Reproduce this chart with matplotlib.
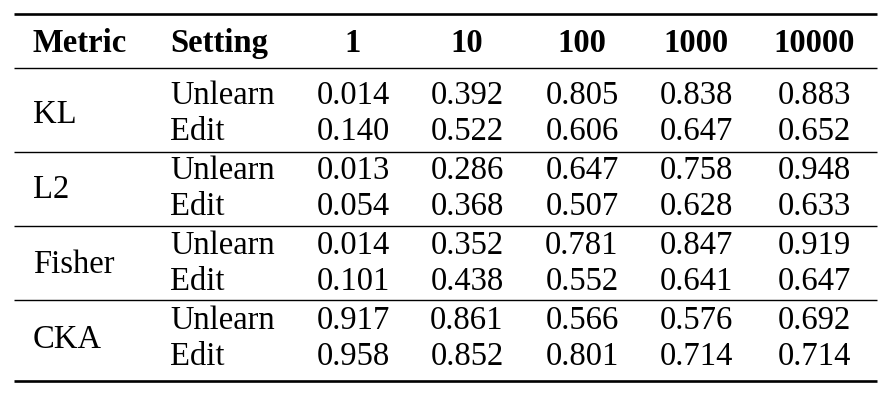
import matplotlib
matplotlib.use("Agg")
import matplotlib.pyplot as plt

columns = ["1", "10", "100", "1000", "10000"]
metrics = ["KL", "L2", "Fisher", "CKA"]
settings = ["Unlearn", "Edit"]
kl_unlearn = [0.014, 0.392, 0.805, 0.838, 0.883]
kl_edit = [0.140, 0.522, 0.606, 0.647, 0.652]
l2_unlearn = [0.013, 0.286, 0.647, 0.758, 0.948]
l2_edit = [0.054, 0.368, 0.507, 0.628, 0.633]
fisher_unlearn = [0.014, 0.352, 0.781, 0.847, 0.919]
fisher_edit = [0.101, 0.438, 0.552, 0.641, 0.647]
cka_unlearn = [0.917, 0.861, 0.566, 0.576, 0.692]
cka_edit = [0.958, 0.852, 0.801, 0.714, 0.714]

values = {
    "KL": [kl_unlearn, kl_edit],
    "L2": [l2_unlearn, l2_edit],
    "Fisher": [fisher_unlearn, fisher_edit],
    "CKA": [cka_unlearn, cka_edit],
}

plt.rcParams['font.family'] = ['Liberation Serif', 'DejaVu Serif']
W, H = 886, 402
fig = plt.figure(figsize=(W / 100, H / 100), dpi=100)
ax = fig.add_axes([0, 0, 1, 1])
ax.set_xlim(0, W)
ax.set_ylim(H, 0)
ax.axis('off')

fs = 23.5
x_metric = 33
x_setting = 170
col_x = [353, 467, 582, 696, 814]
x0, x1 = 14, 877

# rules
ax.plot([x0, x1], [15, 15], color='black', lw=1.9, solid_capstyle='butt')
ax.plot([x0, x1], [69, 69], color='black', lw=1.0, solid_capstyle='butt')
for yy in [153, 227, 301]:
    ax.plot([x0, x1], [yy, yy], color='black', lw=1.0, solid_capstyle='butt')
ax.plot([x0, x1], [382, 382], color='black', lw=1.9, solid_capstyle='butt')

# header
hy = 52
ax.text(x_metric, hy, "Metric", fontsize=fs, fontweight='bold', ha='left', va='baseline')
ax.text(x_setting, hy, "Setting", fontsize=fs, fontweight='bold', ha='left', va='baseline')
for cx, c in zip(col_x, columns):
    ax.text(cx, hy, c, fontsize=fs, fontweight='bold', ha='center', va='baseline')

# body
base_u = [104, 179, 254, 329]
row_h = 36
for bi, m in enumerate(metrics):
    y_u = base_u[bi]
    ax.text(x_metric, y_u + 19, m, fontsize=fs, ha='left', va='baseline')
    for ri, (s, vals) in enumerate(zip(settings, values[m])):
        yy = y_u + ri * row_h
        ax.text(x_setting, yy, s, fontsize=fs, ha='left', va='baseline')
        for cx, v in zip(col_x, vals):
            ax.text(cx, yy, f"{v:.3f}", fontsize=fs, ha='center', va='baseline')

fig.savefig("out.png", dpi=100, facecolor='white')
